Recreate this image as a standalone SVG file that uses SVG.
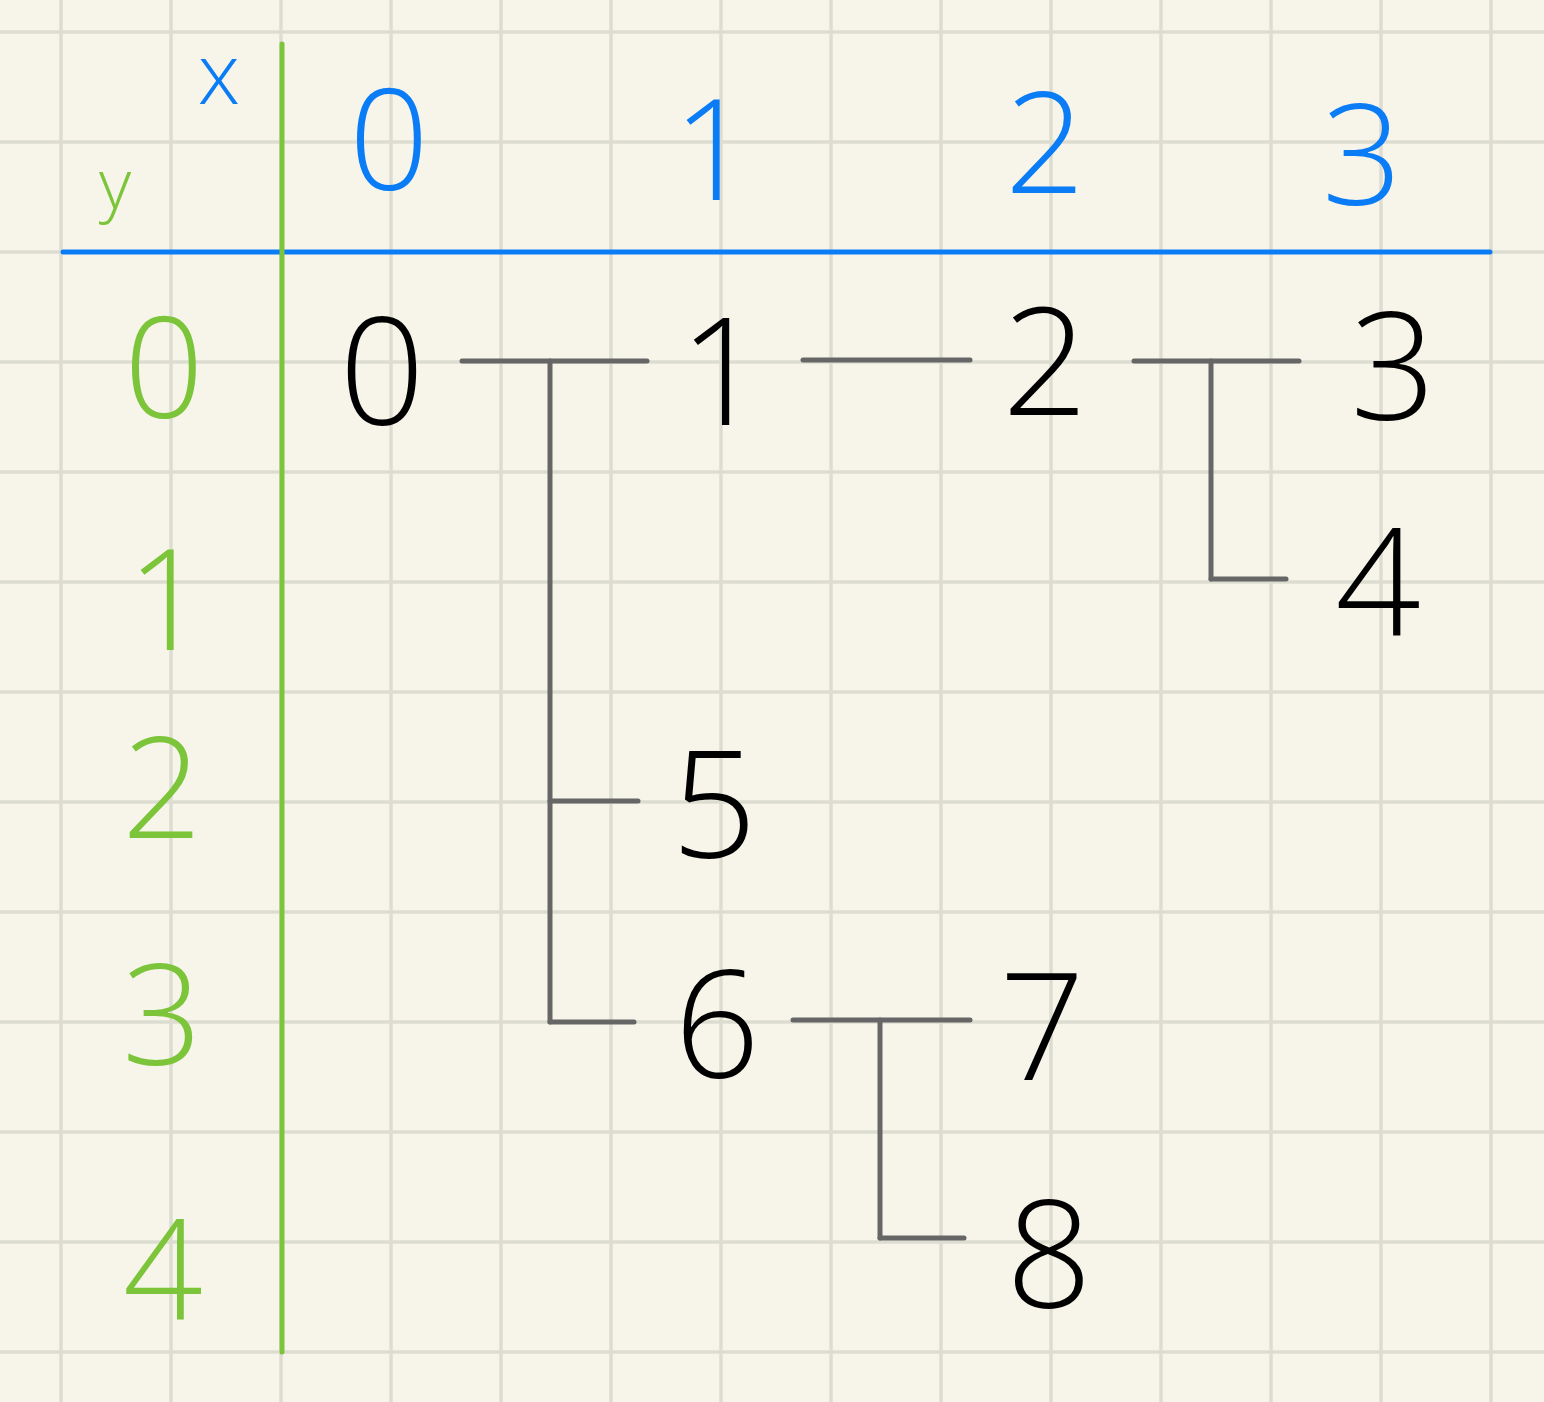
<svg xmlns="http://www.w3.org/2000/svg" width="1544" height="1402" viewBox="0 0 1544 1402">
<defs>
<style>
.grid line{stroke:#dddcd0;stroke-width:3.5}
.conn line{stroke:#666666;stroke-width:5;stroke-linecap:round}
text{font-family:"Open Sans","Liberation Sans",sans-serif;font-weight:300;text-anchor:middle}
.k{fill:#000000;font-size:150px}
.b{fill:#0a7cf5;font-size:140px}
.g{fill:#7cc43a;font-size:140px}
</style>
</defs>
<rect x="0" y="0" width="1544" height="1402" fill="#f7f5ea"/>
<g class="grid">
<line x1="61" y1="0" x2="61" y2="1402"/><line x1="171" y1="0" x2="171" y2="1402"/><line x1="281" y1="0" x2="281" y2="1402"/><line x1="391" y1="0" x2="391" y2="1402"/><line x1="501" y1="0" x2="501" y2="1402"/><line x1="611" y1="0" x2="611" y2="1402"/><line x1="721" y1="0" x2="721" y2="1402"/><line x1="831" y1="0" x2="831" y2="1402"/><line x1="941" y1="0" x2="941" y2="1402"/><line x1="1051" y1="0" x2="1051" y2="1402"/><line x1="1161" y1="0" x2="1161" y2="1402"/><line x1="1271" y1="0" x2="1271" y2="1402"/><line x1="1381" y1="0" x2="1381" y2="1402"/><line x1="1491" y1="0" x2="1491" y2="1402"/>
<line x1="0" y1="32" x2="1544" y2="32"/><line x1="0" y1="142" x2="1544" y2="142"/><line x1="0" y1="252" x2="1544" y2="252"/><line x1="0" y1="362" x2="1544" y2="362"/><line x1="0" y1="472" x2="1544" y2="472"/><line x1="0" y1="582" x2="1544" y2="582"/><line x1="0" y1="692" x2="1544" y2="692"/><line x1="0" y1="802" x2="1544" y2="802"/><line x1="0" y1="912" x2="1544" y2="912"/><line x1="0" y1="1022" x2="1544" y2="1022"/><line x1="0" y1="1132" x2="1544" y2="1132"/><line x1="0" y1="1242" x2="1544" y2="1242"/><line x1="0" y1="1352" x2="1544" y2="1352"/>
</g>
<g id="axes">
<line x1="63" y1="252" x2="1490" y2="252" stroke="#0a7cf5" stroke-width="5" stroke-linecap="round"/>
<line x1="282" y1="44" x2="282" y2="1352" stroke="#7cc43a" stroke-width="5" stroke-linecap="round"/>
<text class="b" x="219" y="104" style="font-size:85px">x</text>
<text class="g" x="115" y="209" style="font-size:70px">y</text>
<text class="b" x="389" y="190">0</text>
<text class="b" x="713" y="200">1</text>
<text class="b" x="1045" y="193">2</text>
<text class="b" x="1362" y="205">3</text>
<text class="g" x="164" y="418">0</text>
<text class="g" x="167" y="650">1</text>
<text class="g" x="162" y="838">2</text>
<text class="g" x="162" y="1065">3</text>
<text class="g" x="163" y="1320">4</text>
</g>
<g class="conn" id="connectors">
<line x1="462" y1="361" x2="647" y2="361"/>
<line x1="550" y1="361" x2="550" y2="1022"/>
<line x1="550" y1="801" x2="638" y2="801"/>
<line x1="550" y1="1022" x2="634" y2="1022"/>
<line x1="803" y1="360" x2="970" y2="360"/>
<line x1="1134" y1="361" x2="1299" y2="361"/>
<line x1="1211" y1="361" x2="1211" y2="579"/>
<line x1="1211" y1="579" x2="1286" y2="579"/>
<line x1="793" y1="1020" x2="970" y2="1020"/>
<line x1="880" y1="1020" x2="880" y2="1238"/>
<line x1="880" y1="1238" x2="964" y2="1238"/>
</g>
<g id="n0"><text class="k" x="382" y="425">0</text></g>
<g id="n1"><text class="k" x="722" y="425">1</text></g>
<g id="n2"><text class="k" x="1045" y="415">2</text></g>
<g id="n3"><text class="k" x="1393" y="420">3</text></g>
<g id="n4"><text class="k" x="1378" y="635">4</text></g>
<g id="n5"><text class="k" x="714" y="858">5</text></g>
<g id="n6"><text class="k" x="717" y="1078">6</text></g>
<g id="n7"><text class="k" x="1042" y="1080">7</text></g>
<g id="n8"><text class="k" x="1049" y="1308">8</text></g>
</svg>
